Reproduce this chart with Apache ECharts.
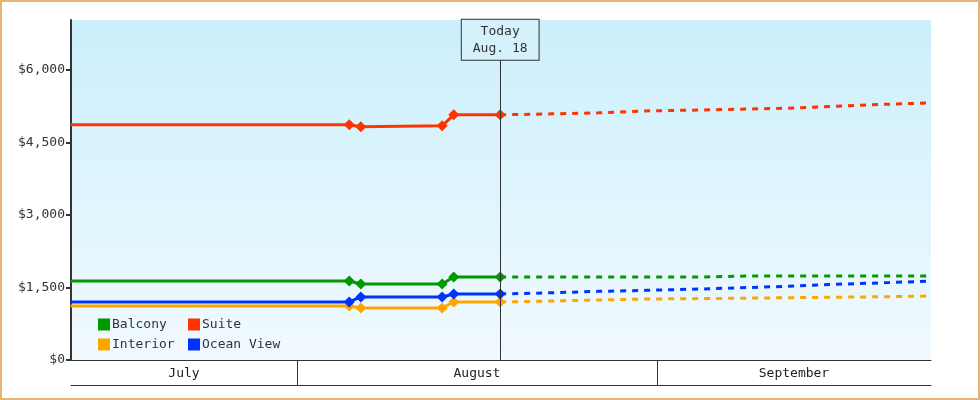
<!DOCTYPE html>
<html><head><meta charset="utf-8">
<script src="https://cdn.jsdelivr.net/npm/echarts@6/dist/echarts.min.js"></script>
<style>html,body{margin:0;padding:0;}#c{width:980px;height:400px;box-sizing:border-box;border:2px solid #e8b476;}</style>
</head><body><div id="c"></div>
<script>
// x values are days counted from June 30 (July 1 = 1)
const pastDays = [11.5, 35.5, 36.5, 43.5, 44.5, 48.5];
const balcony = [1634, 1634, 1572, 1572, 1717, 1717];
const suite = [4862, 4862, 4821, 4841, 5069, 5069];
const interior = [1117, 1117, 1076, 1076, 1200, 1200];
const oceanView = [1200, 1200, 1303, 1303, 1366, 1366];
const futureDays = [48.5, 53, 57, 61, 66, 70, 74, 78, 82, 85.6];
const balconyF = [1717, 1717, 1717, 1717, 1717, 1738, 1738, 1738, 1738, 1738];
const suiteF = [5069, 5090, 5110, 5150, 5170, 5190, 5210, 5250, 5290, 5317];
const interiorF = [1200, 1220, 1240, 1260, 1270, 1280, 1290, 1300, 1310, 1324];
const oceanViewF = [1366, 1390, 1420, 1440, 1470, 1500, 1530, 1570, 1600, 1634];
const monthNames = ['July', 'August', 'September'];
const monthCenters = [21.27, 46.5, 73.8];
const monthBounds = [31, 62];
const yTicks = [0, 1500, 3000, 4500, 6000];
const todayDay = 48.5;
const todayLabel = 'Today\nAug. 18';

const colors = {Balcony:'#009900', Suite:'#ff3300', Interior:'#ffa500', 'Ocean View':'#0033ff'};
const font = 'DejaVu Sans Mono';
const pair = (xs, ys) => xs.map((x, i) => [x, ys[i]]);
const solid = (name, ys) => ({name, type:'line', data:pair(pastDays, ys), symbol:'diamond', symbolSize:11,
  color:colors[name], lineStyle:{width:3}, z:3, animation:false});
const dashed = (name, ys) => ({name:name+' forecast', type:'line', data:pair(futureDays, ys), symbol:'none',
  color:colors[name], lineStyle:{width:3, type:[6,6]}, z:2, animation:false});

const series = [
  solid('Balcony', balcony), solid('Suite', suite), solid('Interior', interior), solid('Ocean View', oceanView),
  dashed('Balcony', balconyF), dashed('Suite', suiteF), dashed('Interior', interiorF), dashed('Ocean View', oceanViewF)
];
series[0].markLine = {symbol:'none', silent:true, animation:false,
  lineStyle:{color:'#333', type:'solid', width:1},
  label:{show:true, position:'end', distance:0, formatter:todayLabel, fontFamily:font, fontSize:13, color:'#333',
    backgroundColor:'#d4f1fc', borderColor:'#333', borderWidth:1, padding:[3,11,3,11], lineHeight:17},
  data:[[{coord:[todayDay, 0]}, {coord:[todayDay, 6207]}]]};

const chart = echarts.init(document.getElementById('c'));
chart.setOption({
  animation:false,
  textStyle:{fontFamily:font},
  grid:{left:69, right:47, top:18, bottom:38,
    backgroundColor:new echarts.graphic.LinearGradient(0,0,0,1,[{offset:0,color:'#cbeffc'},{offset:1,color:'#f1fafe'}]),
    show:true, borderWidth:0},
  legend:[
    {data:['Balcony','Interior'], orient:'vertical', left:91, top:311, itemWidth:12, itemHeight:12, itemGap:7,
      icon:'rect', textStyle:{fontFamily:font, fontSize:13, color:'#333', padding:[0,0,0,-3]}},
    {data:['Suite','Ocean View'], orient:'vertical', left:181, top:311, itemWidth:12, itemHeight:12, itemGap:7,
      icon:'rect', textStyle:{fontFamily:font, fontSize:13, color:'#333', padding:[0,0,0,-3]}}
  ],
  xAxis:[
    {type:'value', min:11.54, max:85.6, position:'bottom',
      axisLine:{show:true, lineStyle:{color:'#333', width:1}},
      axisTick:{show:true, customValues:monthBounds, length:25, lineStyle:{color:'#333'}},
      axisLabel:{customValues:monthCenters, formatter:(v)=>monthNames[monthCenters.indexOf(v)] || '',
        fontFamily:font, fontSize:13, color:'#222', margin:7},
      splitLine:{show:false}},
    {type:'value', min:11.54, max:85.6, position:'bottom', offset:25,
      axisLine:{show:true, lineStyle:{color:'#333', width:1}}, axisTick:{show:false}, axisLabel:{show:false}, splitLine:{show:false}}
  ],
  yAxis:{type:'value', min:0, max:7030, interval:1500,
    axisLine:{show:true, lineStyle:{color:'#333', width:2}},
    axisTick:{show:true, customValues:yTicks, length:5, lineStyle:{color:'#333', width:2}},
    axisLabel:{customValues:yTicks, formatter:(v)=>'$'+v.toLocaleString('en-US'), fontFamily:font, fontSize:13, color:'#333', margin:6},
    splitLine:{show:false}},
  series
});
</script></body></html>
